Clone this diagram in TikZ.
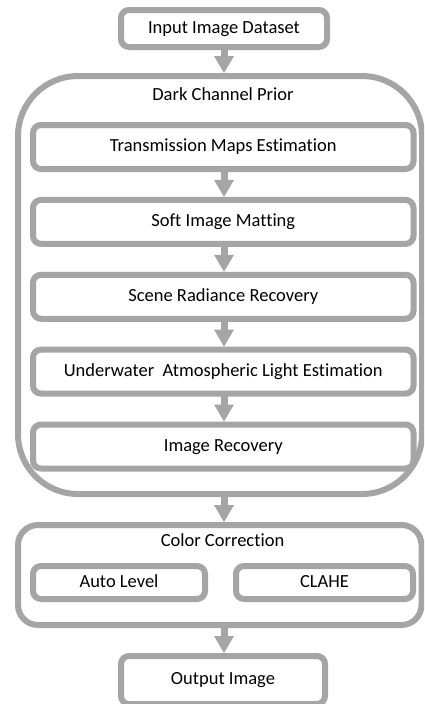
\documentclass[tikz,border=0pt]{standalone}
\usepackage{fontspec}
\setmainfont[Ligatures=NoCommon]{Carlito}
\usetikzlibrary{arrows.meta}
\definecolor{boxgray}{HTML}{A5A5A5}
\tikzset{
  box/.style={draw=boxgray, line width=6pt, rounded corners=8pt, fill=white,
    inner sep=0pt, text height=12.5pt, text depth=3.5pt,
    font=\fontsize{18.5}{22}\selectfont, text=black},
  bigbox/.style={draw=boxgray, line width=6pt, inner sep=0pt},
  lbl/.style={inner sep=0pt, text height=12.5pt, text depth=3.5pt,
    font=\fontsize{18.5}{22}\selectfont, text=black},
  flow/.style={draw=boxgray, line width=7pt,
    -{Triangle[width=20pt,length=17pt,line width=0pt]}, shorten <=-1pt}
}
\begin{document}
\begin{tikzpicture}[x=1pt,y=-1pt]
\useasboundingbox (0,0) rectangle (424,704);
\clip (0,0) rectangle (424,704);
\fill[white] (0,0) rectangle (424,704);
% nodes
\node[box, minimum width=206pt, minimum height=37pt] (in) at (224,28.5) {Input Image Dataset};
\node[bigbox, rounded corners=60pt, minimum width=404pt, minimum height=418pt] (dcp) at (220,285) {};
\node[lbl] (dcpl) at (223,96) {Dark Channel Prior};
\node[box, minimum width=380.5pt, minimum height=44pt] (t1) at (223.25,147) {Transmission Maps Estimation};
\node[box, minimum width=380.5pt, minimum height=44pt] (t2) at (223.25,221.9) {Soft Image Matting};
\node[box, minimum width=380.5pt, minimum height=44pt] (t3) at (223.25,296.75) {Scene Radiance Recovery};
\node[box, minimum width=380.5pt, minimum height=44pt] (t4) at (223.25,371.6) {Underwater~ Atmospheric Light Estimation};
\node[box, minimum width=380.5pt, minimum height=44pt] (t5) at (223.25,446.5) {Image Recovery};
\node[bigbox, rounded corners=20pt, minimum width=403.5pt, minimum height=100pt] (cc) at (219.75,575) {};
\node[lbl] (ccl) at (222.5,542) {Color Correction};
\node[box, minimum width=172pt, minimum height=33pt] (al) at (119,582.5) {Auto Level};
\node[box, minimum width=177pt, minimum height=33pt] (cl) at (324.5,582.5) {CLAHE};
\node[box, minimum width=204pt, minimum height=48pt] (out) at (223,680) {Output Image};
% connectors
\draw[flow] (in.south) -- (in.south |- dcp.north);
\draw[flow] (t1.south -| in.south) -- (t2.north -| in.south);
\draw[flow] (t2.south -| in.south) -- (t3.north -| in.south);
\draw[flow] (t3.south -| in.south) -- (t4.north -| in.south);
\draw[flow] (t4.south -| in.south) -- (t5.north -| in.south);
\draw[flow] (dcp.south -| in.south) -- (cc.north -| in.south);
\draw[flow] (cc.south -| in.south) -- (out.north -| in.south);
\end{tikzpicture}
\end{document}
